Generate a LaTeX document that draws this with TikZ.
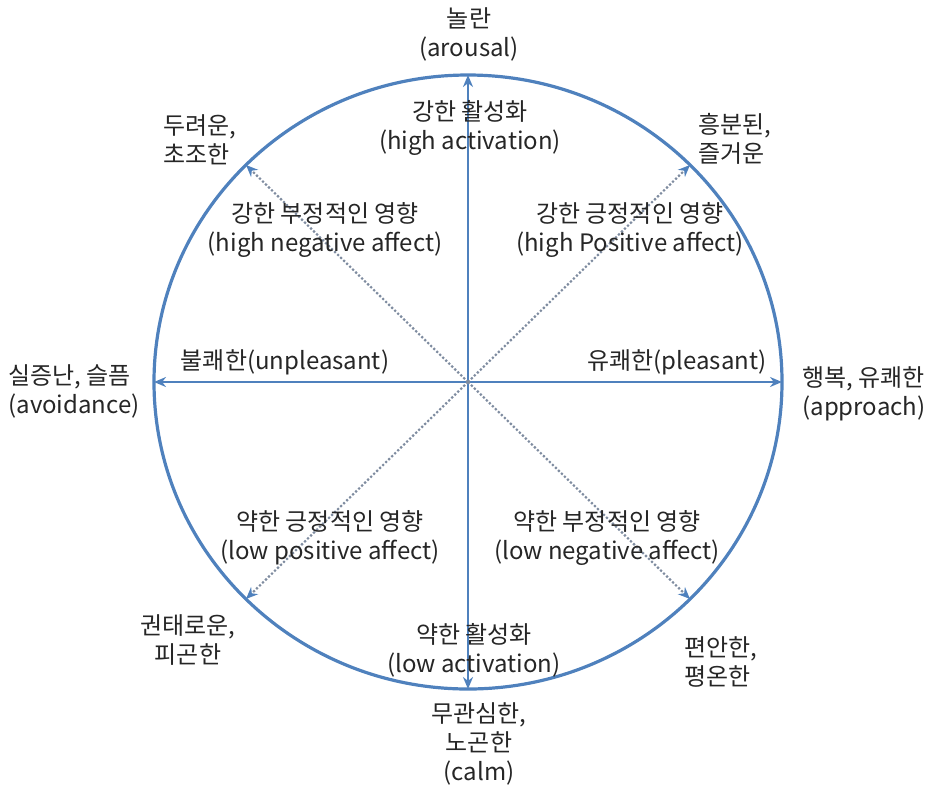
\documentclass[tikz,border=0pt]{standalone}
\usepackage{fontspec}
\setmainfont{Noto Sans CJK KR}
\usetikzlibrary{arrows.meta}
\definecolor{ringblue}{HTML}{4F81BD}
\definecolor{dotgray}{HTML}{7F8CA0}
\definecolor{txtgray}{HTML}{262626}
\begin{document}
\begin{tikzpicture}[x=0.5pt,y=-0.5pt,
    lbl/.style={text=txtgray,font=\fontsize{12}{14.5}\selectfont,align=center,inner sep=0pt},
    lblL/.style={lbl,align=left,anchor=west},
    axis/.style={ringblue,line width=1.1pt,-{Stealth[length=6pt,width=5pt]}},
    diag/.style={dotgray,line width=1.1pt,densely dotted,-{Stealth[length=6pt,width=5pt,ringblue]}}]
                \useasboundingbox (0,0) rectangle (937,789);
                \coordinate (o) at (468,382);
                \draw[ringblue,line width=1.6pt] (o) ellipse [x radius=314,y radius=307];
                % ends of the arrows on the ring
                \coordinate (up) at (468,75);
                \coordinate (dn) at (468,689);
                \coordinate (lt) at (154,382);
                \coordinate (rt) at (782,382);
                \coordinate (ur) at (690,165);
                \coordinate (ul) at (246,165);
                \coordinate (lr) at (690,599);
                \coordinate (ll) at (246,599);
                \foreach \e in {up,dn,lt,rt}{
                    \draw[axis] (o) -- (\e);
                }
                \foreach \e in {ur,ul,lr,ll}{
                    \draw[diag] (o) -- (\e);
                }
                % labels outside the ring
                \node[lbl] (arousal) at (469,34) {놀란\\(arousal)};
                \node[lblL] (fear) at (163,140) {두려운,\\초조한};
                \node[lblL] (excite) at (698,139) {흥분된,\\즐거운};
                \node[lblL] (avoid) at (8,391) {실증난, 슬픔\\(avoidance)};
                \node[lblL] (approach) at (802,394) {행복, 유쾌한\\(approach)};
                \node[lbl] (bored) at (188,640) {권태로운,\\피곤한};
                \node[lblL] (relax) at (684,662) {편안한,\\평온한};
                \node[lbl] (calm) at (479,744) {무관심한,\\노곤한\\(calm)};
                % labels inside the ring
                \node[lbl] (highact) at (470,128) {강한 활성화\\(high activation)};
                \node[lbl] (highneg) at (325,230) {강한 부정적인 영향\\(high negative affect)};
                \node[lbl] (highpos) at (630,230) {강한 긍정적인 영향\\(high Positive affect)};
                \node[lbl] (unpleas) at (285,362) {불쾌한(unpleasant)};
                \node[lbl] (pleas) at (677,362) {유쾌한(pleasant)};
                \node[lbl] (lowpos) at (330,538) {약한 긍정적인 영향\\(low positive affect)};
                \node[lbl] (lowneg) at (607,538) {약한 부정적인 영향\\(low negative affect)};
                \node[lbl] (lowact) at (474,650) {약한 활성화\\(low activation)};
            \end{tikzpicture}
\end{document}
